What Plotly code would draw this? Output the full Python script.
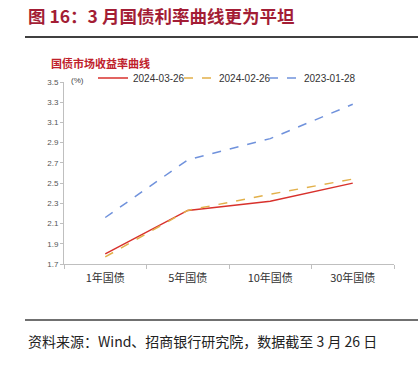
import plotly.graph_objects as go

categories = ["1年国债", "5年国债", "10年国债", "30年国债"]
y_2024_03_26 = [1.80, 2.23, 2.32, 2.50]
y_2024_02_26 = [1.77, 2.23, 2.39, 2.54]
y_2023_01_28 = [2.16, 2.73, 2.94, 3.28]
y_ticks = [1.7, 1.9, 2.1, 2.3, 2.5, 2.7, 2.9, 3.1, 3.3, 3.5]

W, H = 418, 367
L, R, T, B = 64, 24, 82, 103
pw, ph = W - L - R, H - T - B

def px(x):
    return (x - L) / pw

def py(y):
    return (H - B - y) / ph

fig = go.Figure()
fig.add_trace(go.Scatter(x=categories, y=y_2024_03_26, name="2024-03-26", mode="lines",
                         line=dict(color="#D8312C", width=1.5), legend="legend"))
fig.add_trace(go.Scatter(x=categories, y=y_2024_02_26, name="2024-02-26", mode="lines",
                         line=dict(color="#E2B04A", width=1.5, dash="dash"), legend="legend2"))
fig.add_trace(go.Scatter(x=categories, y=y_2023_01_28, name="2023-01-28", mode="lines",
                         line=dict(color="#7092DC", width=1.5, dash="dash"), legend="legend3"))

font_cjk = "Noto Sans CJK SC"

def leg(xpix):
    return dict(orientation="h", x=px(xpix), y=py(78), xanchor="left", yanchor="middle",
                font=dict(size=10, family="Liberation Sans", color="#333333"),
                bgcolor="rgba(0,0,0,0)")

fig.update_layout(
    width=W, height=H,
    margin=dict(l=L, r=R, t=T, b=B),
    paper_bgcolor="white", plot_bgcolor="white",
    font=dict(family=font_cjk, color="#333333", size=10),
    showlegend=True,
    legend=leg(93), legend2=leg(179), legend3=leg(264),
    xaxis=dict(type="category", range=[-0.5, 3.5], showgrid=False, showline=True,
               linecolor="#BFBFBF", linewidth=1, ticks="outside", tickson="boundaries",
               ticklen=4, tickcolor="#BFBFBF", tickfont=dict(size=11, color="#333333"),
               ticklabelstandoff=4, fixedrange=True),
    yaxis=dict(range=[1.7, 3.5], tickvals=y_ticks, ticktext=[f"{v:.1f}" for v in y_ticks],
               showgrid=False, showline=True, linecolor="#BFBFBF", linewidth=1,
               ticks="outside", ticklen=3, tickcolor="#BFBFBF",
               tickfont=dict(size=8, color="#555555", family="Liberation Sans"),
               zeroline=False),
)

shapes = [
    dict(type="line", xref="paper", yref="paper", x0=px(25), x1=px(418), y0=py(37), y1=py(37),
         line=dict(color="#404040", width=2)),
    dict(type="line", xref="paper", yref="paper", x0=px(25), x1=px(418), y0=py(320), y1=py(320),
         line=dict(color="#404040", width=1.5)),
]
fig.update_layout(shapes=shapes)

annotations = [
    dict(text="<b>图 16：3 月国债利率曲线更为平坦</b>", x=px(26), y=py(16), xref="paper", yref="paper",
         xanchor="left", yanchor="middle", showarrow=False,
         font=dict(size=17.5, color="#A31D35", family=font_cjk)),
    dict(text="<b>国债市场收益率曲线</b>", x=px(49), y=py(63), xref="paper", yref="paper",
         xanchor="left", yanchor="middle", showarrow=False,
         font=dict(size=11, color="#C0212B", family=font_cjk)),
    dict(text="(%)", x=px(69), y=py(80), xref="paper", yref="paper",
         xanchor="left", yanchor="middle", showarrow=False,
         font=dict(size=8, color="#444444", family="Liberation Sans")),
    dict(text="资料来源：Wind、招商银行研究院，数据截至 3 月 26 日", x=px(26), y=py(341),
         xref="paper", yref="paper", xanchor="left", yanchor="middle", showarrow=False,
         font=dict(size=14, color="#222222", family=font_cjk)),
]
fig.update_layout(annotations=annotations)

fig.write_html("out.html", config={"displayModeBar": False},
               post_script="document.body.style.margin='0';")
